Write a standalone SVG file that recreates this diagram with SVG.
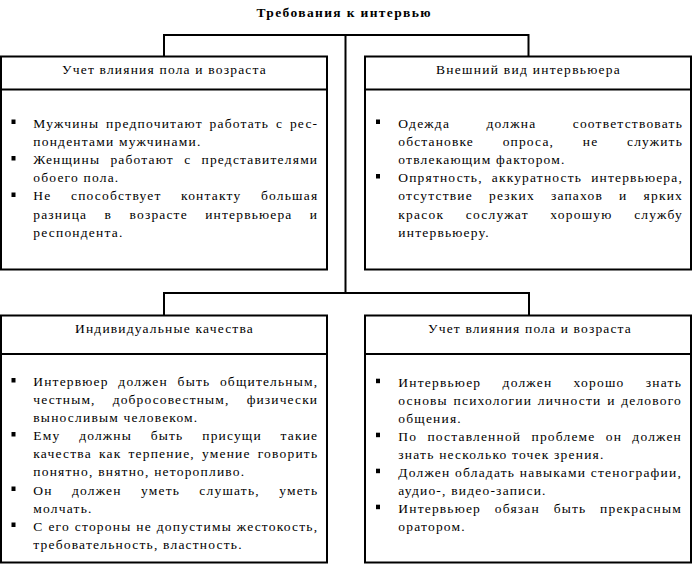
<svg xmlns="http://www.w3.org/2000/svg" width="693" height="564" viewBox="0 0 693 564">
<style>
.box{fill:#fff;stroke:#000;stroke-width:2}
.div{stroke:#000;stroke-width:2}
.con{fill:none;stroke:#000;stroke-width:2}
text{font-family:'Liberation Serif','Times New Roman',serif;font-size:13.5px;letter-spacing:1.2px;fill:#000}
.title{font-weight:bold;text-anchor:middle;letter-spacing:1px}
.h{text-anchor:middle}
.b{fill:#000}
</style>
<rect width="693" height="564" fill="#fff"/>
<text class="title" x="344" y="17" textLength="175" lengthAdjust="spacing">Требования к интервью</text>
<g id="connectors">
<path class="con" d="M164,56 V35 H528.5 V56"/>
<path class="con" d="M345.5,35 V293"/>
<path class="con" d="M164,315 V293 H529 V315"/>
</g>
<g id="node1">
<rect class="box" x="1" y="56.5" width="326" height="213"/>
<line class="div" x1="1" y1="89.5" x2="327" y2="89.5"/>
<text class="h" x="164.5" y="74" textLength="205" lengthAdjust="spacing">Учет влияния пола и возраста</text>
<rect class="b" x="11.5" y="119.5" width="4" height="4.5"/>
<rect class="b" x="11.5" y="156" width="4" height="4.5"/>
<rect class="b" x="11.5" y="192.5" width="4" height="4.5"/>
<text x="33.3" y="127.5" word-spacing="2.2" textLength="285" lengthAdjust="spacing">Мужчины предпочитают работать с рес-</text>
<text x="33.3" y="145.7">пондентами мужчинами.</text>
<text x="33.3" y="163.9" word-spacing="5.6" textLength="285" lengthAdjust="spacing">Женщины работают с представителями</text>
<text x="33.3" y="182.1">обоего пола.</text>
<text x="33.3" y="200.3" word-spacing="14.9" textLength="285" lengthAdjust="spacing">Не способствует контакту большая</text>
<text x="33.3" y="218.5" word-spacing="12.85" textLength="285" lengthAdjust="spacing">разница в возрасте интервьюера и</text>
<text x="33.3" y="236.7">респондента.</text>
</g>
<g id="node2">
<rect class="box" x="365" y="56.5" width="326" height="213"/>
<line class="div" x1="365" y1="89.5" x2="691" y2="89.5"/>
<text class="h" x="528.5" y="74" textLength="185" lengthAdjust="spacing">Внешний вид интервьюера</text>
<rect class="b" x="376" y="119.5" width="4" height="4.5"/>
<rect class="b" x="376" y="174" width="4" height="4.5"/>
<text x="398.3" y="127.5" word-spacing="31.8" textLength="284.7" lengthAdjust="spacing">Одежда должна соответствовать</text>
<text x="398.3" y="145.7" word-spacing="24.2" textLength="284.7" lengthAdjust="spacing">обстановке опроса, не служить</text>
<text x="398.3" y="163.9">отвлекающим фактором.</text>
<text x="398.3" y="182.1" word-spacing="4.5" textLength="284.7" lengthAdjust="spacing">Опрятность, аккуратность интервьюера,</text>
<text x="398.3" y="200.3" word-spacing="11.55" textLength="284.7" lengthAdjust="spacing">отсутствие резких запахов и ярких</text>
<text x="398.3" y="218.5" word-spacing="17" textLength="284.7" lengthAdjust="spacing">красок сослужат хорошую службу</text>
<text x="398.3" y="236.7">интервьюеру.</text>
</g>
<g id="node3">
<rect class="box" x="1" y="315.5" width="326" height="247"/>
<line class="div" x1="1" y1="354" x2="327" y2="354"/>
<text class="h" x="164.5" y="333" textLength="179" lengthAdjust="spacing">Индивидуальные качества</text>
<rect class="b" x="11.5" y="378" width="4" height="4.5"/>
<rect class="b" x="11.5" y="432" width="4" height="4.5"/>
<rect class="b" x="11.5" y="486.5" width="4" height="4.5"/>
<rect class="b" x="11.5" y="522.5" width="4" height="4.5"/>
<text x="33.3" y="386" word-spacing="5.1" textLength="285" lengthAdjust="spacing">Интервюер должен быть общительным,</text>
<text x="33.3" y="404" word-spacing="12.7" textLength="285" lengthAdjust="spacing">честным, добросовестным, физически</text>
<text x="33.3" y="422">выносливым человеком.</text>
<text x="33.3" y="440" word-spacing="14.3" textLength="285" lengthAdjust="spacing">Ему должны быть присущи такие</text>
<text x="33.3" y="458" word-spacing="2.4" textLength="285" lengthAdjust="spacing">качества как терпение, умение говорить</text>
<text x="33.3" y="476">понятно, внятно, неторопливо.</text>
<text x="33.3" y="494.5" word-spacing="14.7" textLength="285" lengthAdjust="spacing">Он должен уметь слушать, уметь</text>
<text x="33.3" y="512.5">молчать.</text>
<text x="33.3" y="530.5" word-spacing="0.3" textLength="285" lengthAdjust="spacing">С его стороны не допустимы жестокость,</text>
<text x="33.3" y="549">требовательность, властность.</text>
</g>
<g id="node4">
<rect class="box" x="365" y="315.5" width="326" height="247"/>
<line class="div" x1="365" y1="354" x2="691" y2="354"/>
<text class="h" x="530" y="333" textLength="204" lengthAdjust="spacing">Учет влияния пола и возраста</text>
<rect class="b" x="376" y="378.7" width="4" height="4.5"/>
<rect class="b" x="376" y="432.7" width="4" height="4.5"/>
<rect class="b" x="376" y="468.7" width="4" height="4.5"/>
<rect class="b" x="376" y="504.7" width="4" height="4.5"/>
<text x="398.3" y="386.7" word-spacing="16.7" textLength="283.7" lengthAdjust="spacing">Интервьюер должен хорошо знать</text>
<text x="398.3" y="404.7" word-spacing="1.15" textLength="283.7" lengthAdjust="spacing">основы психологии личности и делового</text>
<text x="398.3" y="422.7">общения.</text>
<text x="398.3" y="440.7" word-spacing="5.75" textLength="283.7" lengthAdjust="spacing">По поставленной проблеме он должен</text>
<text x="398.3" y="458.7">знать несколько точек зрения.</text>
<text x="398.3" y="476.7" textLength="283.7" lengthAdjust="spacing">Должен обладать навыками стенографии,</text>
<text x="398.3" y="494.7">аудио-, видео-записи.</text>
<text x="398.3" y="512.7" word-spacing="9.2" textLength="283.7" lengthAdjust="spacing">Интервьюер обязан быть прекрасным</text>
<text x="398.3" y="530.7">оратором.</text>
</g>
</svg>
